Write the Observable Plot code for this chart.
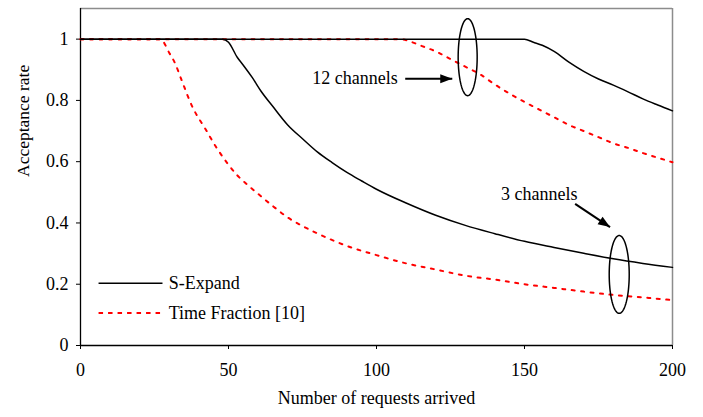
<!DOCTYPE html>
<html>
<head>
<meta charset="utf-8">
<script src="https://cdn.jsdelivr.net/npm/d3@7"></script>
<script src="https://cdn.jsdelivr.net/npm/@observablehq/plot@0.6"></script>
<style>
  body { margin: 0; background: #fff; }
  #chart { width: 703px; height: 417px; }
</style>
</head>
<body>
<div id="chart"></div>
<script>
// ---- data ----
const xTicks = [0, 50, 100, 150, 200];
const yTicks = [0, 0.2, 0.4, 0.6, 0.8, 1];

// S-Expand, 3 channels
const sExpand3X = [0, 48, 50, 53, 55, 58, 61, 65, 70, 75, 80, 85, 90, 95, 100, 110, 120, 130, 140, 150, 160, 170, 180, 190, 200];
const sExpand3Y = [1, 1, 0.99, 0.94, 0.915, 0.875, 0.83, 0.78, 0.72, 0.675, 0.632, 0.597, 0.565, 0.537, 0.51, 0.465, 0.425, 0.392, 0.365, 0.34, 0.32, 0.301, 0.283, 0.268, 0.255];

// S-Expand, 12 channels
const sExpand12X = [0, 150, 153, 156, 160, 165, 170, 175, 180, 185, 190, 195, 200];
const sExpand12Y = [1, 1, 0.99, 0.98, 0.96, 0.925, 0.895, 0.87, 0.85, 0.828, 0.805, 0.785, 0.766];

// Time Fraction [10], 3 channels
const timeFrac3X = [0, 27, 30, 32, 34, 38, 42, 46, 50, 53, 56, 60, 65, 70, 75, 80, 90, 100, 110, 120, 130, 140, 150, 160, 170, 180, 190, 200];
const timeFrac3Y = [1, 1, 0.955, 0.92, 0.87, 0.775, 0.71, 0.645, 0.59, 0.555, 0.528, 0.495, 0.455, 0.418, 0.39, 0.366, 0.325, 0.295, 0.268, 0.248, 0.228, 0.215, 0.2, 0.188, 0.176, 0.165, 0.157, 0.148];

// Time Fraction [10], 12 channels
const timeFrac12X = [0, 108, 112, 116, 120, 125, 130, 135, 140, 145, 150, 155, 160, 165, 170, 175, 180, 185, 190, 195, 200];
const timeFrac12Y = [1, 1, 0.99, 0.975, 0.96, 0.935, 0.91, 0.885, 0.852, 0.822, 0.795, 0.77, 0.745, 0.72, 0.7, 0.68, 0.66, 0.645, 0.628, 0.613, 0.598];

// legend
const legendNames = ["S-Expand", "Time Fraction [10]"];
const legendY = [0.203, 0.106];
const legendX1 = 6.1, legendX2 = 27.7, legendTextX = 29.8;

// annotations
const annoText = ["12 channels", "3 channels"];
const annoX = [92.7, 155];
const annoY = [0.871, 0.493];
const arrowX1 = [109.7, 167.1], arrowY1 = [0.871, 0.4625];
const arrowX2 = [125.6, 178.9], arrowY2 = [0.871, 0.3864];
const ellipseCX = [130.8, 182.0], ellipseCY = [0.941, 0.232];
const ellipseRX = [3.21, 3.38], ellipseRY = [0.1256, 0.127];

// ---- build tables ----
const W = 703, H = 417, mL = 80, mR = 31, mT = 8, mB = 72;
const xMax = 200, yMax = 1.1;
const kx = (W - mL - mR) / xMax, ky = (H - mT - mB) / yMax;

const toRows = (xs, ys, key) => xs.map((x, i) => ({x, y: ys[i], key}));
const solidRows = [...toRows(sExpand3X, sExpand3Y, "s3"), ...toRows(sExpand12X, sExpand12Y, "s12")];
const dashRows = [...toRows(timeFrac3X, timeFrac3Y, "t3"), ...toRows(timeFrac12X, timeFrac12Y, "t12")];

const ellipseRows = [];
ellipseCX.forEach((cx, k) => {
  for (let t = 0; t <= 96; t++) {
    const a = (t / 96) * 2 * Math.PI;
    ellipseRows.push({k, x: cx + ellipseRX[k] * Math.cos(a), y: ellipseCY[k] + ellipseRY[k] * Math.sin(a)});
  }
});

const arrows = annoText.map((_, i) => {
  const dx = (arrowX2[i] - arrowX1[i]) * kx, dy = -(arrowY2[i] - arrowY1[i]) * ky;
  return {x1: arrowX1[i], y1: arrowY1[i], x2: arrowX2[i], y2: arrowY2[i],
          angle: Math.atan2(dx, -dy) * 180 / Math.PI};
});
const arrowHead = {
  draw(ctx) { ctx.moveTo(0, 0); ctx.lineTo(4.5, 12); ctx.lineTo(-4.5, 12); ctx.closePath(); }
};

const legendRows = legendNames.map((name, i) => ({name, y: legendY[i]}));
const font = "'Liberation Serif', 'Times New Roman', serif";

const chart = Plot.plot({
  width: W, height: H,
  marginLeft: mL, marginRight: mR, marginTop: mT, marginBottom: mB,
  style: {fontFamily: font, fontSize: "18px", background: "#fff", color: "#000", overflow: "visible"},
  x: {domain: [0, xMax]},
  y: {domain: [0, yMax]},
  marks: [
    Plot.ruleY([yMax], {stroke: "#8c8c8c", strokeWidth: 1.5}),
    Plot.ruleX([xMax], {stroke: "#8c8c8c", strokeWidth: 1.5}),
    Plot.ruleX([0], {stroke: "#000", strokeWidth: 1.3}),
    Plot.ruleY([0], {stroke: "#000", strokeWidth: 1.3}),
    Plot.axisX({ticks: xTicks, tickSize: 4, tickPadding: 14, label: null, fontSize: 18, tickFormat: d => String(d)}),
    Plot.axisY({ticks: yTicks, tickSize: 4, tickPadding: 8, label: null, fontSize: 18, tickFormat: d => String(+d.toFixed(1))}),
    Plot.text(["Number of requests arrived"], {frameAnchor: "bottom", dy: 58, fontSize: 18}),
    Plot.text(["Acceptance rate"], {frameAnchor: "left", dx: -57, rotate: -90, fontSize: 17.5}),
    // series
    Plot.line(dashRows, {x: "x", y: "y", z: "key", stroke: "#ff0000", strokeWidth: 2, strokeDasharray: "3,6.5", curve: "monotone-x"}),
    Plot.line(solidRows, {x: "x", y: "y", z: "key", stroke: "#000", strokeWidth: 1.5, curve: "monotone-x"}),
    // legend
    Plot.link(legendRows.slice(0, 1), {x1: () => legendX1, x2: () => legendX2, y1: "y", y2: "y", stroke: "#000", strokeWidth: 1.5}),
    Plot.link(legendRows.slice(1), {x1: () => legendX1, x2: () => legendX2, y1: "y", y2: "y", stroke: "#ff0000", strokeWidth: 2, strokeDasharray: "4.5,5"}),
    Plot.text(legendRows, {x: () => legendTextX, y: "y", text: "name", textAnchor: "start", fontSize: 18}),
    // annotations
    Plot.line(ellipseRows, {x: "x", y: "y", z: "k", stroke: "#000", strokeWidth: 1.5}),
    Plot.link(arrows, {x1: "x1", y1: "y1", x2: "x2", y2: "y2", stroke: "#000", strokeWidth: 2}),
    Plot.dot(arrows, {x: "x2", y: "y2", symbol: arrowHead, rotate: "angle", fill: "#000", stroke: "none", r: 6}),
    Plot.text(annoText, {x: (d, i) => annoX[i], y: (d, i) => annoY[i], text: d => d, fontSize: 18})
  ]
});
document.getElementById("chart").appendChild(chart);
</script>
</body>
</html>
